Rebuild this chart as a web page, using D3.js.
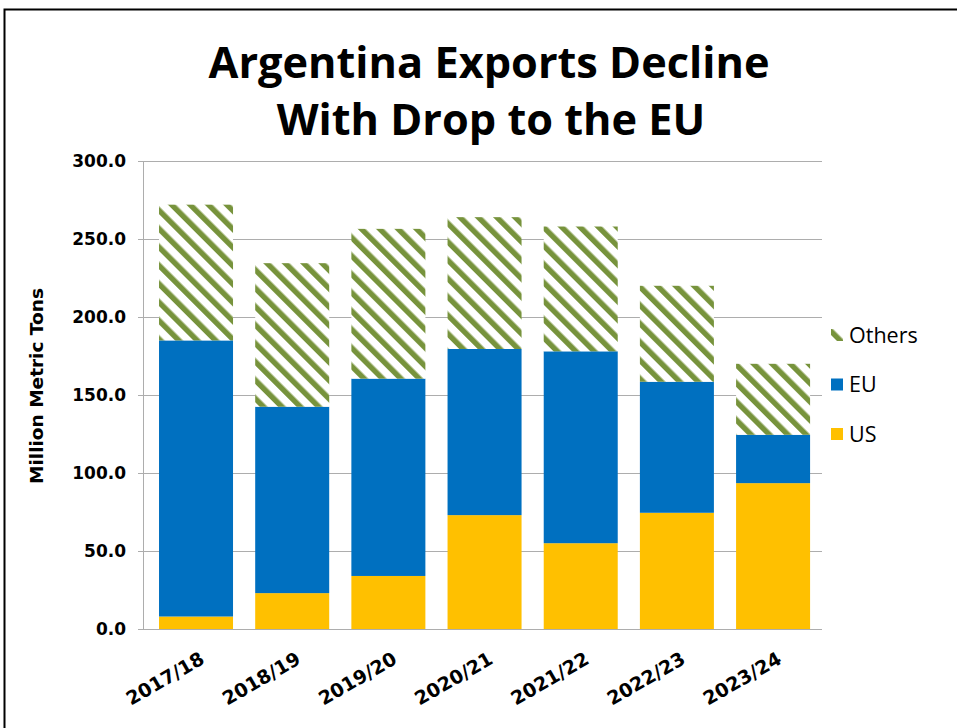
<!DOCTYPE html>
<html><head><meta charset="utf-8">
<script src="https://cdn.jsdelivr.net/npm/d3@7"></script>
<style>body{margin:0;background:#fff}svg{display:block}</style>
</head><body>
<svg id="chart" width="957" height="728"></svg>
<script>
const categories = ["2017/18","2018/19","2019/20","2020/21","2021/22","2022/23","2023/24"];
const usValues = [8, 23, 34, 73, 55, 74.5, 93.5];
const euValues = [177, 119.5, 126.5, 106.5, 123, 84, 31];
const othersValues = [87, 92, 96, 84.5, 80, 61.5, 45.5];
const yTicks = [0, 50, 100, 150, 200, 250, 300];
const seriesNames = ["US", "EU", "Others"];
const legendOrder = ["Others", "EU", "US"];

const svg = d3.select("#chart");
const defs = svg.append("defs");
const pat = defs.append("pattern").attr("id","hatch").attr("patternUnits","userSpaceOnUse")
  .attr("width",13).attr("height",13).attr("patternTransform","rotate(-45)");
pat.append("rect").attr("width",13).attr("height",13).attr("fill","#fff");
pat.append("rect").attr("x",0).attr("width",5.5).attr("height",13).attr("fill","#77933C");

const colors = {US:"#FFC000", EU:"#0070C0", Others:"url(#hatch)"};

// frame
svg.append("rect").attr("x",4.5).attr("y",9.5).attr("width",970).attr("height",740)
  .attr("fill","none").attr("stroke","#000").attr("stroke-width",2);

const x0 = 143, x1 = 822, yTop = 161, yBot = 629;
const x = d3.scaleBand().domain(categories).range([149.4, 819.7]).paddingInner(0.2305).paddingOuter(0.1);
const y = d3.scaleLinear().domain([0,300]).range([yBot,yTop]);

// gridlines
svg.append("g").selectAll("line").data(yTicks).join("line")
  .attr("x1",x0-5).attr("x2",x1).attr("y1",d=>y(d)+0.5).attr("y2",d=>y(d)+0.5)
  .attr("stroke","#ADADAD").attr("stroke-width",1);
svg.append("line").attr("x1",x0+0.5).attr("x2",x0+0.5).attr("y1",yTop).attr("y2",yBot)
  .attr("stroke","#ADADAD");

const rows = categories.map((c,i)=>({cat:c, US:usValues[i], EU:euValues[i], Others:othersValues[i]}));
const stacked = d3.stack().keys(seriesNames)(rows);

svg.append("g").selectAll("g").data(stacked).join("g")
  .attr("fill",d=>colors[d.key])
  .selectAll("rect").data(d=>d).join("rect")
  .attr("x",d=>x(d.data.cat)).attr("width",x.bandwidth())
  .attr("y",d=>y(d[1])).attr("height",d=>y(d[0])-y(d[1]));

// y tick labels
svg.append("g").selectAll("text").data(yTicks).join("text")
  .attr("x",x0-17).attr("y",d=>y(d)).attr("dy","0.36em").attr("text-anchor","end")
  .attr("font-family","DejaVu Sans").attr("font-weight","bold").attr("font-size",17)
  .text(d=>d3.format(".1f")(d));

// x labels
svg.append("g").selectAll("text").data(categories).join("text")
  .attr("text-anchor","end")
  .attr("transform",d=>`translate(${x(d)+x.bandwidth()/2+3},${yBot+22}) rotate(-30)`)
  .attr("dy","0.71em")
  .attr("font-family","DejaVu Sans").attr("font-weight","bold").attr("font-size",19)
  .text(d=>d);

// axis title
svg.append("text").attr("transform","translate(43,386) rotate(-90)").attr("text-anchor","middle")
  .attr("font-family","DejaVu Sans").attr("font-weight","bold").attr("font-size",18.5)
  .text("Million Metric Tons");

// title
const title = svg.append("text").attr("text-anchor","middle")
  .attr("font-family","Open Sans").attr("font-weight","bold").attr("font-size",43.3);
title.append("tspan").attr("x",489).attr("y",78).text("Argentina Exports Decline");
title.append("tspan").attr("x",491).attr("y",135).text("With Drop to the EU");

// legend
const lg = svg.append("g").selectAll("g").data(legendOrder).join("g")
  .attr("transform",(d,i)=>`translate(831,${335+i*49.5})`);
lg.append("rect").attr("x",0).attr("y",-6).attr("width",12).attr("height",12).attr("fill",d=>colors[d]);
lg.append("text").attr("x",18).attr("y",0).attr("dy","0.36em")
  .attr("font-family","Open Sans").attr("font-size",21.5).text(d=>d);
</script>
</body></html>
